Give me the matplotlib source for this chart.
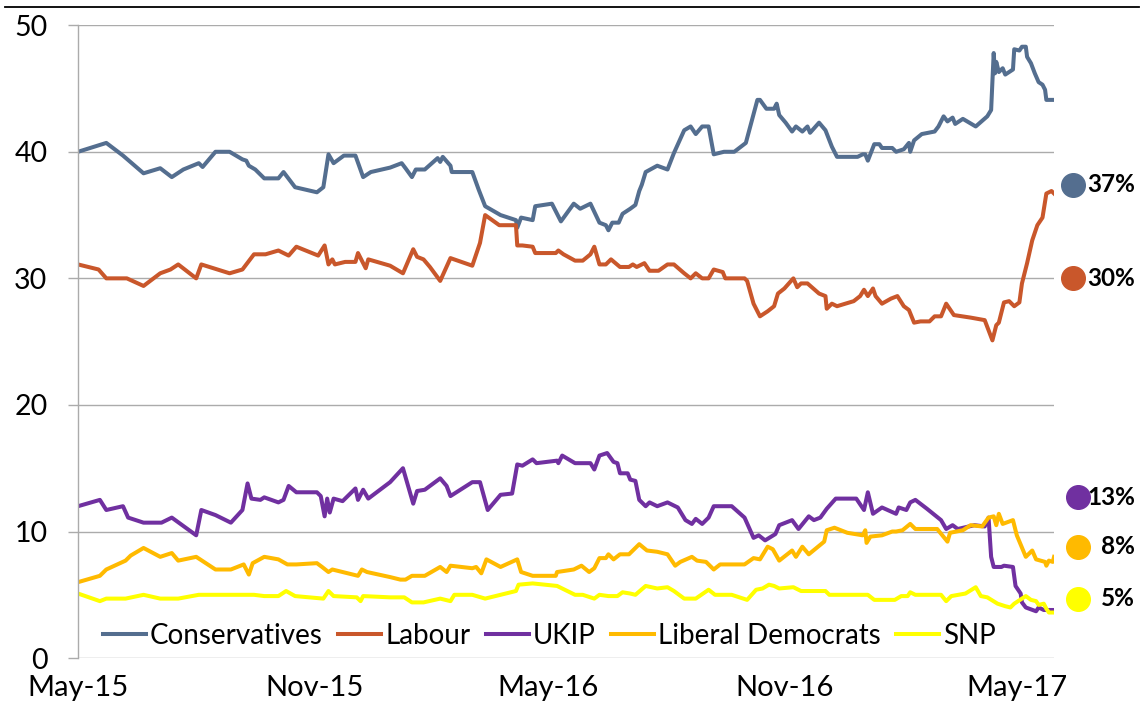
import numpy as np
import matplotlib

matplotlib.use("Agg")
import matplotlib.pyplot as plt
import matplotlib.transforms as mtransforms

plt.rcParams["font.family"] = ["Lato", "DejaVu Sans"]

# Days counted from 1 May 2015
START = np.datetime64("2015-05-01")

con_day = [0, 22, 35, 51, 64, 73, 82, 94, 97, 107, 118, 128, 131, 133, 138, 145, 156, 160, 169, 186,
           191, 195, 199, 207, 216, 222, 228, 243, 252, 255, 260, 263, 270, 280, 282, 284, 290, 291,
           307, 312, 317, 329, 341, 342, 345, 354, 356, 369, 376, 386, 391, 399, 406, 411, 413, 416,
           421, 424, 430, 434, 437, 439, 442, 451, 459, 464, 472, 477, 481, 486, 491, 495, 503, 511,
           520, 529, 531, 536, 542, 544, 546, 551, 556, 559, 564, 568, 570, 577, 582, 587, 591, 607,
           611, 613, 615, 620, 624, 626, 634, 637, 643, 647, 648, 651, 657, 667, 670, 674, 677, 681,
           683, 689, 699, 708, 711, 713, 714, 715, 717, 720, 722, 725, 728, 729, 733, 735, 738, 739,
           742, 745, 748, 751, 753, 754, 760]
con_val = [40.0, 40.7, 39.7, 38.3, 38.7, 38.0, 38.6, 39.1, 38.8, 40.0, 40.0, 39.4, 39.3, 38.9, 38.6,
           37.9, 37.9, 38.4, 37.2, 36.8, 37.2, 39.8, 39.1, 39.7, 39.7, 38.0, 38.4, 38.75, 39.1, 38.7,
           38.0, 38.6, 38.6, 39.5, 39.2, 39.6, 38.9, 38.4, 38.4, 37.0, 35.7, 35.0, 34.6, 34.0, 34.8,
           34.6, 35.7, 35.9, 34.5, 35.9, 35.5, 35.9, 34.4, 34.2, 33.8, 34.4, 34.4, 35.1, 35.5, 35.8,
           36.9, 37.4, 38.4, 38.9, 38.6, 39.9, 41.7, 42.0, 41.4, 42.0, 42.0, 39.8, 40.0, 40.0, 40.7,
           44.1, 44.1, 43.4, 43.4, 43.8, 42.9, 42.3, 41.6, 42.0, 41.6, 42.0, 41.5, 42.3, 41.7, 40.4,
           39.6, 39.6, 39.8, 39.8, 39.3, 40.6, 40.6, 40.3, 40.3, 40.0, 40.2, 40.7, 40.0, 40.9, 41.4,
           41.6, 42.0, 42.8, 42.4, 42.7, 42.2, 42.6, 42.0, 42.8, 43.3, 47.8, 46.2, 47.1, 46.3, 46.6,
           46.1, 46.3, 46.5, 48.1, 48.0, 48.3, 48.3, 47.5, 47.0, 46.2, 45.5, 45.3, 44.9, 44.1, 44.1]

lab_day = [0, 16, 22, 38, 51, 64, 72, 78, 92, 96, 118, 128, 137, 146, 156, 164, 170, 187, 192, 195,
           198, 200, 208, 216, 218, 224, 226, 243, 253, 261, 264, 269, 274, 282, 290, 307, 313, 317,
           328, 341, 342, 346, 354, 356, 372, 374, 378, 387, 393, 399, 402, 406, 411, 415, 422, 429,
           432, 435, 441, 445, 452, 459, 464, 472, 477, 481, 486, 491, 495, 502, 504, 519, 521, 526,
           531, 537, 542, 545, 550, 557, 560, 563, 568, 577, 582, 583, 587, 591, 604, 609, 612, 615,
           619, 621, 626, 633, 638, 643, 647, 651, 656, 663, 667, 672, 676, 682, 695, 706, 709, 712,
           715, 717, 721, 725, 729, 733, 735, 739, 743, 747, 751, 754, 758, 760]
lab_val = [31.1, 30.7, 30.0, 30.0, 29.4, 30.4, 30.7, 31.1, 30.0, 31.1, 30.4, 30.7, 31.9, 31.9, 32.2,
           31.8, 32.5, 31.8, 32.6, 31.1, 31.5, 31.1, 31.3, 31.3, 32.0, 30.8, 31.5, 31.0, 30.4, 32.3,
           31.7, 31.5, 30.9, 29.8, 31.6, 31.0, 32.8, 35.0, 34.2, 34.2, 32.6, 32.6, 32.5, 32.0, 32.0,
           32.2, 31.9, 31.4, 31.4, 31.9, 32.5, 31.1, 31.1, 31.5, 30.9, 30.9, 31.1, 30.9, 31.2, 30.6,
           30.6, 31.1, 31.1, 30.4, 30.0, 30.4, 30.0, 30.0, 30.7, 30.5, 30.0, 30.0, 29.8, 28.0, 27.0,
           27.4, 27.8, 28.8, 29.2, 30.0, 29.3, 29.6, 29.6, 28.8, 28.6, 27.6, 28.0, 27.8, 28.2, 28.6,
           29.1, 28.6, 29.2, 28.6, 28.0, 28.4, 28.6, 27.8, 27.5, 26.5, 26.6, 26.6, 27.0, 27.0, 28.0,
           27.1, 26.9, 26.7, 25.9, 25.1, 26.3, 26.5, 28.1, 28.2, 27.8, 28.1, 29.6, 31.2, 33.0, 34.2,
           34.8, 36.7, 36.9, 36.7]

ukip_day = [0, 17, 22, 35, 39, 51, 65, 73, 92, 96, 107, 119, 128, 132, 135, 142, 145, 156, 160, 164,
            170, 186, 189, 192, 194, 196, 199, 206, 216, 218, 222, 226, 243, 253, 261, 264, 270, 282,
            287, 290, 307, 313, 319, 329, 338, 342, 346, 354, 357, 373, 374, 377, 387, 399, 402, 406,
            412, 417, 420, 422, 428, 430, 434, 437, 442, 445, 451, 459, 467, 473, 478, 481, 486, 491,
            495, 509, 519, 526, 530, 535, 543, 546, 556, 561, 569, 573, 578, 583, 590, 606, 612, 615,
            619, 626, 637, 639, 645, 648, 652, 661, 672, 676, 681, 685, 698, 706, 709, 711, 713, 719,
            721, 728, 730, 734, 735, 738, 746, 748, 752, 760]
ukip_val = [12.0, 12.5, 11.7, 12.0, 11.1, 10.7, 10.7, 11.1, 9.7, 11.7, 11.3, 10.7, 11.7, 13.8, 12.6,
            12.5, 12.7, 12.3, 12.5, 13.6, 13.1, 13.1, 12.8, 11.2, 12.6, 11.5, 12.6, 12.4, 13.4, 12.5,
            13.3, 12.6, 13.9, 15.0, 12.2, 13.2, 13.3, 14.2, 13.6, 12.8, 13.9, 13.9, 11.7, 12.9, 13.0,
            15.3, 15.2, 15.7, 15.4, 15.6, 15.4, 16.0, 15.4, 15.4, 14.9, 16.0, 16.2, 15.5, 15.4, 14.6,
            14.6, 14.1, 14.0, 12.5, 12.0, 12.3, 12.0, 12.3, 11.9, 10.9, 10.6, 11.0, 10.6, 11.1, 12.0,
            12.0, 11.1, 9.5, 9.7, 9.3, 9.8, 10.5, 10.9, 10.2, 11.2, 10.9, 11.1, 11.8, 12.6, 12.6, 11.7,
            13.1, 11.4, 11.9, 11.4, 11.9, 11.7, 12.3, 12.5, 11.8, 10.9, 10.2, 10.5, 10.2, 10.5, 10.4,
            11.1, 8.0, 7.2, 7.2, 7.3, 7.2, 5.7, 5.1, 4.4, 4.0, 3.7, 4.0, 3.8, 3.8]

ld_day = [0, 17, 22, 37, 41, 51, 64, 73, 78, 92, 107, 119, 129, 133, 136, 145, 156, 163, 170, 186,
          190, 195, 198, 206, 218, 221, 225, 243, 251, 255, 260, 270, 282, 287, 290, 307, 310, 314,
          318, 329, 342, 345, 354, 372, 373, 386, 392, 398, 402, 406, 411, 413, 417, 422, 429, 437,
          443, 451, 459, 465, 469, 478, 482, 489, 495, 500, 519, 526, 531, 537, 541, 546, 556, 559,
          564, 569, 581, 583, 589, 599, 611, 613, 614, 617, 626, 634, 637, 642, 648, 652, 669, 677,
          679, 689, 695, 704, 709, 713, 715, 717, 720, 728, 731, 738, 743, 746, 753, 754, 756, 759,
          760]
ld_val = [6.0, 6.5, 7.0, 7.7, 8.1, 8.7, 8.0, 8.3, 7.7, 8.0, 7.0, 7.0, 7.4, 6.6, 7.5, 8.0, 7.8, 7.4,
          7.4, 7.5, 7.2, 6.8, 7.0, 6.8, 6.5, 7.0, 6.8, 6.4, 6.2, 6.2, 6.5, 6.5, 7.2, 6.8, 7.3, 7.1,
          7.2, 6.7, 7.8, 7.2, 7.8, 6.8, 6.5, 6.5, 6.8, 7.0, 7.3, 6.8, 7.1, 7.9, 7.9, 8.2, 7.8, 8.2,
          8.2, 9.0, 8.5, 8.4, 8.2, 7.3, 7.6, 8.0, 7.7, 7.6, 7.0, 7.4, 7.4, 7.9, 7.8, 8.8, 8.6, 7.7,
          8.5, 8.0, 8.8, 8.2, 9.2, 10.1, 10.3, 9.9, 9.7, 10.1, 9.1, 9.6, 9.7, 10.0, 10.0, 10.1, 10.6,
          10.2, 10.2, 9.2, 9.9, 10.1, 10.5, 10.4, 11.1, 11.2, 10.5, 11.4, 10.6, 10.9, 9.7, 8.0, 8.5,
          7.8, 7.6, 7.3, 7.7, 7.6, 8.0]

snp_day = [0, 17, 22, 37, 51, 64, 78, 94, 137, 145, 156, 162, 169, 191, 195, 199, 217, 220, 222,
           243, 254, 260, 269, 282, 290, 293, 307, 317, 329, 341, 343, 354, 373, 387, 393, 402, 406,
           413, 420, 424, 430, 434, 442, 451, 459, 464, 472, 481, 491, 496, 509, 521, 528, 533, 538,
           542, 546, 557, 563, 582, 585, 615, 620, 636, 641, 646, 648, 652, 672, 676, 680, 691, 699,
           703, 708, 716, 722, 726, 729, 738, 742, 746, 748, 752, 754, 756, 760]
snp_val = [5.1, 4.5, 4.7, 4.7, 5.0, 4.7, 4.7, 5.0, 5.0, 4.9, 4.9, 5.3, 4.9, 4.7, 5.3, 4.9, 4.8, 4.5,
           4.9, 4.8, 4.8, 4.4, 4.4, 4.7, 4.5, 5.0, 5.0, 4.7, 5.0, 5.3, 5.8, 5.9, 5.7, 5.0, 5.0, 4.7,
           5.0, 4.9, 4.9, 5.2, 5.1, 5.0, 5.7, 5.5, 5.6, 5.3, 4.7, 4.7, 5.4, 5.0, 5.0, 4.6, 5.4, 5.5,
           5.8, 5.7, 5.5, 5.6, 5.3, 5.3, 5.0, 5.0, 4.6, 4.6, 4.9, 4.9, 5.2, 5.0, 5.0, 4.5, 4.9, 5.1,
           5.6, 4.9, 4.8, 4.3, 4.1, 4.0, 4.3, 4.9, 4.6, 4.5, 4.2, 4.3, 3.9, 3.6, 3.6]

parties = ["Conservatives", "Labour", "UKIP", "Liberal Democrats", "SNP"]
colors = ["#546E8F", "#C9572B", "#7030A0", "#FFBA00", "#FFFF00"]
series = [(con_day, con_val), (lab_day, lab_val), (ukip_day, ukip_val),
          (ld_day, ld_val), (snp_day, snp_val)]

# latest poll markers on the right
latest_vals = [37, 30, 13, 8, 5]
latest_labels = ["37%", "30%", "13%", "8%", "5%"]

tick_dates = ["2015-05-01", "2015-11-01", "2016-05-01", "2016-11-01", "2017-05-01"]
tick_labels = ["May-15", "Nov-15", "May-16", "Nov-16", "May-17"]


def to_dates(days):
    return START + np.array(days).astype("timedelta64[D]")


fig = plt.figure(figsize=(11.41, 7.04), dpi=100, facecolor="white")
ax = fig.add_axes([0.0684, 0.0652, 0.8554, 0.899])

for name, col, (d, v) in zip(parties, colors, series):
    ax.plot(to_dates(d), v, color=col, lw=2.9, label=name, solid_joinstyle="round")

ax.set_ylim(0, 50)
ax.set_xlim(START, START + np.timedelta64(760, "D"))
ax.set_yticks([0, 10, 20, 30, 40, 50])
ax.set_xticks([np.datetime64(t) for t in tick_dates])
ax.set_xticklabels(tick_labels)

ax.grid(axis="y", color="#ABABAB", lw=1.0)
ax.set_axisbelow(True)
for s in ["top", "right", "bottom"]:
    ax.spines[s].set_visible(False)
ax.spines["left"].set_color("#ABABAB")
ax.spines["left"].set_linewidth(1.0)
ax.tick_params(axis="y", length=7, color="#ABABAB", width=1.0, pad=15, labelsize=20.5)
ax.tick_params(axis="x", length=0, pad=12, labelsize=21)

leg = ax.legend(loc="lower left", bbox_to_anchor=(0.008, -0.012), ncol=5, frameon=False,
                fontsize=20, handlelength=1.55, handletextpad=0.15, columnspacing=0.55,
                borderaxespad=0.2)

# right-hand markers
trans = mtransforms.blended_transform_factory(ax.transAxes, ax.transData)
dot_x = [1.0195, 1.0195, 1.0246, 1.0246, 1.0246]
dot_nudge = [0.4, 0.0, -0.3, 0.8, -0.3]
for val, lab, col, dx, nud in zip(latest_vals, latest_labels, colors, dot_x, dot_nudge):
    ax.plot([dx], [val + nud], "o", color=col, markersize=17, transform=trans, clip_on=False)
    ax.text(1.083, val + nud, lab, transform=trans, ha="right", va="center",
            fontsize=17.5, fontweight="bold", color="black")

# top rule
fig.add_artist(plt.Line2D([0.004, 0.998], [1 - 7 / 704, 1 - 7 / 704], color="black", lw=1.3))

fig.savefig("out.png", dpi=100, facecolor="white")
